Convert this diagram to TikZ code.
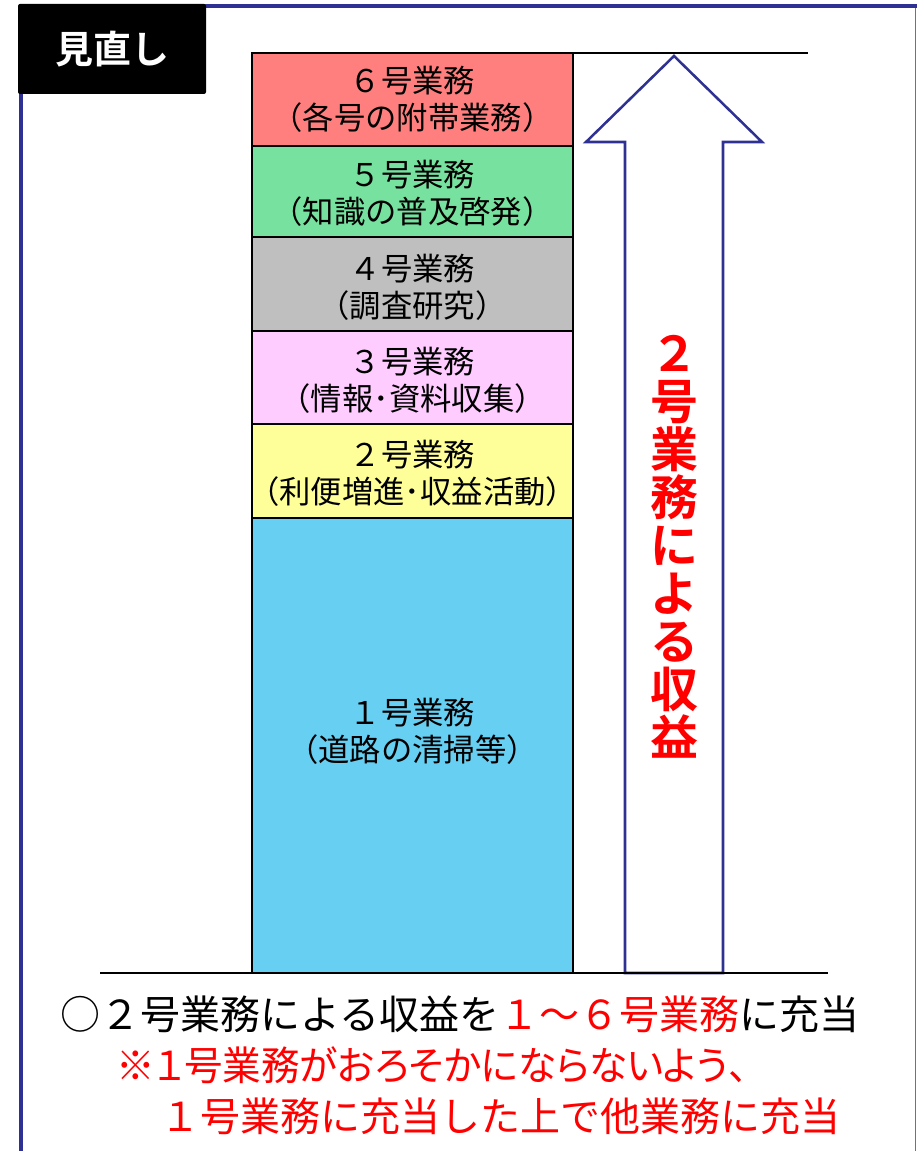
\documentclass[tikz,border=0pt]{standalone}
\usepackage{fontspec}
\setmainfont{Noto Sans CJK JP}
\newfontfamily\jpbold{Noto Sans CJK JP Bold}
\newfontfamily\jppalt[RawFeature=+palt]{Noto Sans CJK JP}
\definecolor{navy}{HTML}{2E3192}
\definecolor{navylight}{HTML}{6B6BB3}
\definecolor{cSix}{HTML}{FF7F7F}
\definecolor{cFive}{HTML}{77E29F}
\definecolor{cFour}{HTML}{BFBFBF}
\definecolor{cThree}{HTML}{FFCCFF}
\definecolor{cTwo}{HTML}{FFFF99}
\definecolor{cOne}{HTML}{66CFF2}
\definecolor{tred}{HTML}{FF0000}
\tikzset{
  bizbox/.style={draw=black, line width=1.9pt},
  boxtext/.style={align=center, font=\fontsize{23.5}{27.75}\selectfont, inner sep=0pt},
  baseline/.style={draw=black, line width=1.5pt},
  uparrow/.style={draw=navy, fill=white, line width=1.9pt, line join=miter},
  note/.style={anchor=west, inner sep=0pt, font=\fontsize{30}{34}\selectfont},
}
\begin{document}
\begin{tikzpicture}[x=0.75pt,y=-0.75pt]
\useasboundingbox (0,0) rectangle (917,1151);
\fill[white] (0,0) rectangle (917,1151);
% frame
\draw[navylight, line width=1pt] (915.5,6) -- (915.5,1151);
\draw[navy, line width=3pt] (20.5,1151) -- (20.5,6) -- (917,6);
% label
\node[fill=black, rounded corners=1.5pt, minimum width=188*0.75pt, minimum height=90*0.75pt, inner sep=0pt,
      text=white, font=\jpbold\fontsize{28.5}{30}\selectfont] (label) at (112,49) {見直し};
% stacked boxes
\draw[bizbox, fill=cSix]   (252,53)  rectangle (573,146) coordinate (b6);
\draw[bizbox, fill=cFive]  (252,146) rectangle (573,237) coordinate (b5);
\draw[bizbox, fill=cFour]  (252,237) rectangle (573,331) coordinate (b4);
\draw[bizbox, fill=cThree] (252,331) rectangle (573,424) coordinate (b3);
\draw[bizbox, fill=cTwo]   (252,424) rectangle (573,518) coordinate (b2);
\draw[bizbox, fill=cOne]   (252,518) rectangle (573,973) coordinate (b1);
\node[boxtext] (t6) at (412.5,99)   {６号業務\\（各号の附帯業務）};
\node[boxtext] (t5) at (412.5,193.5) {５号業務\\（知識の普及啓発）};
\node[boxtext] (t4) at (412.5,287)  {４号業務\\（調査研究）};
\node[boxtext] (t3) at (412.5,380)  {３号業務\\（情報･資料収集）};
\node[boxtext] (t2) at (412.5,473.5) {２号業務\\（利便増進･収益活動）};
\node[boxtext] (t1) at (412.5,731.5) {１号業務\\（道路の清掃等）};
% reference lines
\coordinate (topL) at (573,53);
\coordinate (topR) at (808,53);
\coordinate (botL) at (100,973);
\coordinate (botR) at (828,973);
\draw[baseline] (topL) -- (topR);
% arrow
\draw[uparrow] (674,56) -- (762,142) -- (723,142) -- (723,973) -- (625,973) -- (625,142) -- (586,142) -- cycle;
\draw[baseline] (botL) -- (botR);
\node[align=center, inner sep=0pt, text=tred, font=\jpbold\fontsize{36}{36}\selectfont] (vt) at (674,547)
  {２\\号\\業\\務\\に\\よ\\る\\収\\益};
% notes
\node[note] (n1) at (60,1014) {○２号業務による収益を\textcolor{tred}{１～６号業務}に充当};
\node[note, text=tred, xscale=0.965] (n2) at (116,1065) {\jppalt ※１号業務がおろそかにならないよう、};
\node[note, text=tred] (n3) at (160,1116) {１号業務に充当した上で他業務に充当};
\end{tikzpicture}
\end{document}
